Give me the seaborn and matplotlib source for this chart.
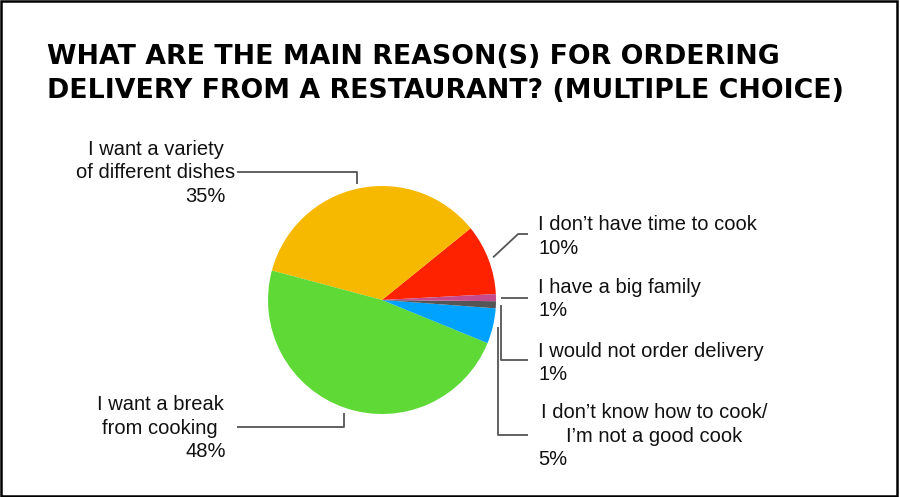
import matplotlib
matplotlib.use("Agg")
import matplotlib.pyplot as plt
import numpy as np
import seaborn as sns
from matplotlib.patches import Rectangle

sns.set_theme(style="white")
plt.rcParams['font.family'] = ['Liberation Sans', 'DejaVu Sans']

# 数据
labels = ["I don\u2019t have time to cook", "I want a variety\nof different dishes",
          "I want a break\nfrom cooking", "I don\u2019t know how to cook/\nI\u2019m not a good cook",
          "I would not order delivery", "I have a big family"]
values = [10, 35, 48, 5, 1, 1]
pct_labels = ["10%", "35%", "48%", "5%", "1%", "1%"]
colors = ["#FF2200", "#F7B900", "#5ED936", "#00A2FF", "#555555", "#C54B8C"]

W, H = 900, 497
fig = plt.figure(figsize=(9, 4.97), dpi=100)
ax = fig.add_axes([0, 0, 1, 1])


def Y(y):
    return H - y


cx, cy, R = 382, 300, 114
wedges, _ = ax.pie(values, colors=colors, startangle=3, counterclock=True,
                   center=(cx, Y(cy)), radius=R,
                   wedgeprops=dict(linewidth=0.6, edgecolor='none'))
ax.set_xlim(0, W)
ax.set_ylim(0, H)
ax.set_aspect('equal')
ax.axis('off')

# 标题
ax.text(47, Y(64), "WHAT ARE THE MAIN REASON(S) FOR ORDERING", fontsize=19.3,
        fontweight='bold', family='DejaVu Sans', color='#000000', va='baseline')
ax.text(47, Y(98), "DELIVERY FROM A RESTAURANT? (MULTIPLE CHOICE)", fontsize=19.3,
        fontweight='bold', family='DejaVu Sans', color='#000000', va='baseline')

# 标注: (leader y, elbow dx, end x, text x, text align, first baseline, pct x, pct align)
layout = [
    (234, 25, 528, 538, 'left', 230, 538, 'left'),     # time
    (172, 0, 237, 156, 'center', 155, 226, 'right'),   # variety
    (427, 0, 237, 160, 'center', 410, 226, 'right'),   # break
    (435, 0, 528, 654, 'center', 418, 538, 'left'),    # don't know
    (360, 0, 528, 538, 'left', 357, 538, 'left'),      # would not
    (None, 0, 528, 538, 'left', 293, 538, 'left'),     # big family
]
step = 23.5
fs = 14.5
for w, lab, pct, (ly, edx, ex, tx, ta, by, px, pa) in zip(wedges, labels, pct_labels, layout):
    ang = np.deg2rad((w.theta1 + w.theta2) / 2)
    axp = w.center[0] + (R + 5) * np.cos(ang)
    ayp = w.center[1] + (R + 5) * np.sin(ang)
    if ly is None:
        xs, ys = [axp, ex], [ayp, ayp]
    else:
        xs = [axp, axp + edx, ex]
        ys = [ayp, Y(ly), Y(ly)]
    ax.plot(xs, ys, color='#555555', lw=1.3, solid_capstyle='butt')
    lines = lab.split("\n")
    for i, t in enumerate(lines):
        ax.text(tx, Y(by + i * step), t, fontsize=fs, ha=ta, va='baseline', color='#111111')
    ax.text(px, Y(by + len(lines) * step), pct, fontsize=fs, ha=pa, va='baseline', color='#111111')

# 边框
fig.patches.append(Rectangle((0.001, 0.002), 0.996, 0.996, transform=fig.transFigure,
                             fill=False, edgecolor='black', lw=1.8))

fig.savefig("out.png", dpi=100)
